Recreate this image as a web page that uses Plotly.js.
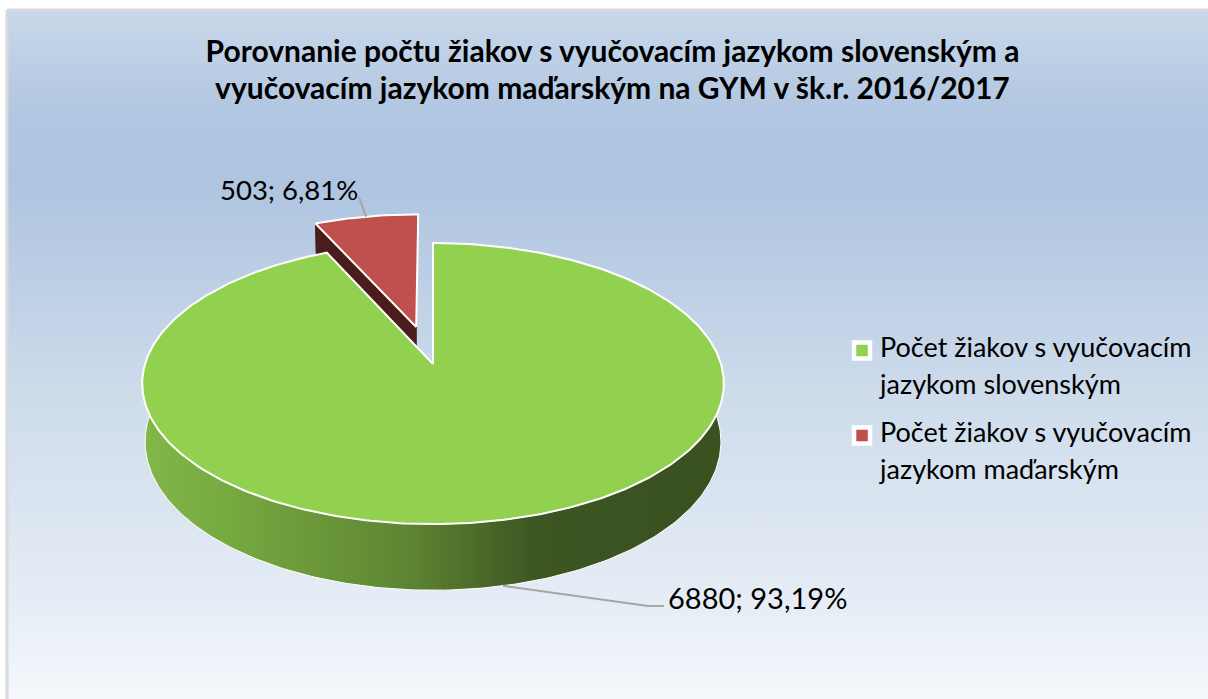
<!DOCTYPE html>
<html>
<head>
<meta charset="utf-8">
<script src="https://cdn.plot.ly/plotly-3.0.1.min.js"></script>
<style>html,body{margin:0;padding:0;background:#fff}#chart{width:1208px;height:699px}</style>
</head>
<body>
<div id="chart"></div>
<script>
const categories = ['Počet žiakov s vyučovacím<br>jazykom slovenským', 'Počet žiakov s vyučovacím<br>jazykom maďarským'];
const values = [6880, 503];
const sliceColors = ['#92d050', '#c0504d'];
const wallDark = '#4a1c1b';
const chartTitle = 'Porovnanie počtu žiakov s vyučovacím jazykom slovenským a<br>vyučovacím jazykom maďarským na GYM v šk.r. 2016/2017';
const wallStops = [[0,'#82b74a'],[0.15,'#76a940'],[0.45,'#5f8633'],[0.68,'#3c5521'],[1,'#3a5120']];
const bgStops = [[0,'#c8d8ea'],[0.14,'#b2c7e1'],[0.25,'#aec4e0'],[0.55,'#cddbeb'],[0.85,'#e5ecf5'],[1,'#f4f8fc']];

// 3D view of the pie: a disc seen in perspective
const view = {cx:433, cy:364, rx:288, ry:137.8, k:0.139, h:57, bottomScale:0.99, explode:0.285};
const total = values.reduce((a,b)=>a+b,0);
const startAngles = [0, values[0]/total*2*Math.PI];
const endAngles = [values[0]/total*2*Math.PI, 2*Math.PI];

function project(u,v,bottom){
  const d = 1+view.k*v;
  return {
    x: view.cx + (bottom?view.bottomScale:1)*view.rx*u/d,
    y: view.cy - view.ry*v/d + (bottom?view.h/d:0)
  };
}
function arc(a0,a1,ou,ov,bottom){
  const n = Math.max(4,Math.ceil(Math.abs(a1-a0)/(Math.PI/180)));
  const out=[];
  for(let i=0;i<=n;i++){const a=a0+(a1-a0)*i/n; out.push(project(ou+Math.sin(a),ov+Math.cos(a),bottom));}
  return out;
}
const xs = p=>p.map(q=>q.x), ys = p=>p.map(q=>q.y);
function poly(pts,color,extra){
  const closed = pts.concat([pts[0]]);
  return Object.assign({type:'scatter',mode:'lines',x:xs(closed),y:ys(closed),fill:'toself',fillcolor:color,
    line:{color:'#ffffff',width:2},hoverinfo:'skip',showlegend:false},extra||{});
}

const traces=[];
// background panel: only its top and left edges fall inside the picture
traces.push({type:'scatter',mode:'lines',x:[7,1230,1230,7,7],y:[10,10,720,720,10],fill:'toself',
  line:{color:'#d9d9d9',width:3},hoverinfo:'skip',showlegend:false,
  fillgradient:{type:'vertical',colorscale:bgStops,start:11,stop:699}});

// exploded slice
const midRed=(startAngles[1]+endAngles[1])/2;
const ou=view.explode*Math.sin(midRed), ov=view.explode*Math.cos(midRed);
const redApexTop=project(ou,ov,false), redApexBottom=project(ou,ov,true);
const redCorner=project(ou+Math.sin(startAngles[1]),ov+Math.cos(startAngles[1]),false);
const redCornerBottom=project(ou+Math.sin(startAngles[1]),ov+Math.cos(startAngles[1]),true);
traces.push(poly([redApexTop,redCorner,redCornerBottom,redApexBottom],wallDark,{line:{color:wallDark,width:1}}));
traces.push(poly([redApexTop].concat(arc(startAngles[1],endAngles[1],ou,ov,false)),sliceColors[1]));

// main slice: side wall, then top
const wallTop=arc(Math.PI*0.45,Math.PI*1.55,0,0,false);
const wallBottom=arc(Math.PI*1.55,Math.PI*0.45,0,0,true);
traces.push({type:'scatter',mode:'lines',x:xs(wallTop.concat(wallBottom,[wallTop[0]])),y:ys(wallTop.concat(wallBottom,[wallTop[0]])),
  fill:'toself',line:{color:'#ffffff',width:1},hoverinfo:'skip',showlegend:false,
  fillgradient:{type:'horizontal',colorscale:wallStops}});
traces.push(poly([project(0,0,false)].concat(arc(startAngles[0],endAngles[0],0,0,false)),sliceColors[0]));

// leader lines, starting from each slice's middle on its rim
const midGreen=(startAngles[0]+endAngles[0])/2;
const leadGreen=project(Math.sin(midGreen),Math.cos(midGreen),true);
const leadRed=project(ou+Math.sin(midRed),ov+Math.cos(midRed),false);
traces.push({type:'scatter',mode:'lines',x:[leadGreen.x,648,664],y:[leadGreen.y,606,606],line:{color:'#a6a6a6',width:2},hoverinfo:'skip',showlegend:false});
traces.push({type:'scatter',mode:'lines',x:[leadRed.x,359],y:[leadRed.y,197],line:{color:'#a6a6a6',width:2},hoverinfo:'skip',showlegend:false});

// legend entries
categories.forEach((c,i)=>traces.push({type:'scatter',mode:'markers',x:[null],y:[null],name:'<span style="font-size:27px">'+c.replace('<br>','</span><br><span style="font-size:27px">')+'</span>',legendgroup:'g'+i,
  marker:{symbol:'square',size:17.5,color:sliceColors[i],line:{color:'#ffffff',width:4.5}},hoverinfo:'skip',showlegend:true}));

const label=(i)=>values[i]+'; '+(values[i]/total*100).toFixed(2).replace('.',',')+'%';
const layout={
  width:1208,height:699,margin:{l:0,r:0,t:0,b:0},paper_bgcolor:'#ffffff',plot_bgcolor:'rgba(0,0,0,0)',
  xaxis:{range:[0,1208],visible:false,fixedrange:true},
  yaxis:{range:[699,0],visible:false,fixedrange:true},
  title:{text:'<span style="font-size:30px">'+chartTitle.replace('<br>','</span><br><span style="font-size:30px">')+'</span>',
    x:0.507,xanchor:'center',y:0.9115,yanchor:'middle',font:{family:'Lato, sans-serif',size:28.5,color:'#000000',weight:700}},
  font:{family:'Lato, sans-serif',color:'#000000'},
  legend:{x:0.6954,y:0.541,xanchor:'left',yanchor:'top',bgcolor:'rgba(0,0,0,0)',font:{family:'Lato, sans-serif',size:28.5,color:'#000000'},
    tracegroupgap:8,traceorder:'grouped',itemclick:false,itemdoubleclick:false},
  annotations:[
    {text:label(1),xref:'x',yref:'y',x:289,y:189,showarrow:false,xanchor:'center',yanchor:'middle',font:{size:27.5,family:'Lato, sans-serif',color:'#000000'}},
    {text:label(0),xref:'x',yref:'y',x:757.5,y:597,showarrow:false,xanchor:'center',yanchor:'middle',font:{size:29,family:'Lato, sans-serif',color:'#000000'}}
  ],
  showlegend:true
};
// legend swatches sit beside the first line of each two-line entry
function alignSwatches(){
  document.querySelectorAll('#chart .legend .legendpoints').forEach(g=>g.setAttribute('transform','translate(2,-14)'));
}
Plotly.newPlot('chart',traces,layout,{displayModeBar:false}).then(alignSwatches);
</script>
</body>
</html>
